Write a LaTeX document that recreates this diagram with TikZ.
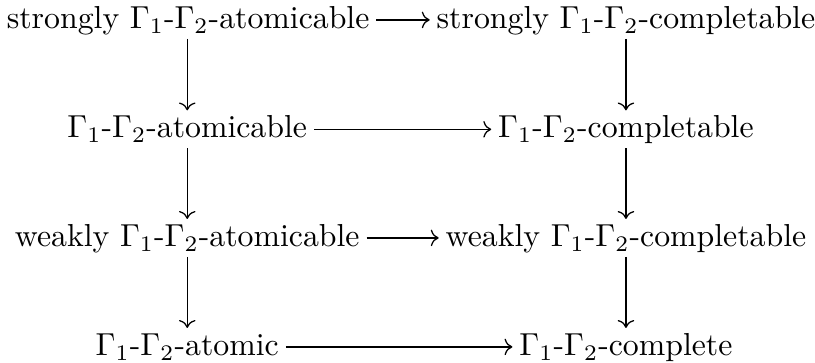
\documentclass[tikz,border=0pt]{standalone}
\usepackage{amsmath, amssymb}
\usepackage{tikz}
\usetikzlibrary{
arrows.meta,
positioning
}

\begin{document}
\begin{tikzpicture}[
  >={To},
  every node/.style={font=\normalsize},
  cell/.style={inner sep=2pt, text height=1.5ex, text depth=.25ex, anchor=center},
  imp/.style={->, line width=0.4pt}
]
\useasboundingbox (0,0) rectangle (9.01,4.01);

%% ── LEFT COLUMN: atomicable ────────────────────────────────────
\node[cell] (satom)  at (2.08, 3.79) {strongly $\Gamma_1$-$\Gamma_2$-atomicable};
\node[cell] (atom)   at (2.07, 2.58) {$\Gamma_1$-$\Gamma_2$-atomicable};
\node[cell] (watom)  at (2.07, 1.38) {weakly $\Gamma_1$-$\Gamma_2$-atomicable};
\node[cell] (atomic) at (2.07, 0.175) {$\Gamma_1$-$\Gamma_2$-atomic};

%% ── RIGHT COLUMN: completable ──────────────────────────────────
\node[cell] (scompl)   at (6.92, 3.79) {strongly $\Gamma_1$-$\Gamma_2$-completable};
\node[cell] (compl)    at (6.92, 2.58) {$\Gamma_1$-$\Gamma_2$-completable};
\node[cell] (wcompl)   at (6.92, 1.38) {weakly $\Gamma_1$-$\Gamma_2$-completable};
\node[cell] (complete) at (6.92, 0.175) {$\Gamma_1$-$\Gamma_2$-complete};

%% ── HORIZONTAL IMPLICATIONS ────────────────────────────────────
\draw[imp] (satom)  -- (scompl);
\draw[imp] (atom)   -- (compl);
\draw[imp] (watom)  -- (wcompl);
\draw[imp] (atomic) -- (complete);

%% ── VERTICAL IMPLICATIONS ──────────────────────────────────────
\draw[imp] (atom |- satom.south) -- (atom.north);
\draw[imp] (atom.south)          -- (watom.north -| atom);
\draw[imp] (atom |- watom.south) -- (atomic.north);
\draw[imp] (scompl.south)  -- (compl.north);
\draw[imp] (compl.south)   -- (wcompl.north);
\draw[imp] (wcompl.south)  -- (complete.north);

\end{tikzpicture}
\end{document}
